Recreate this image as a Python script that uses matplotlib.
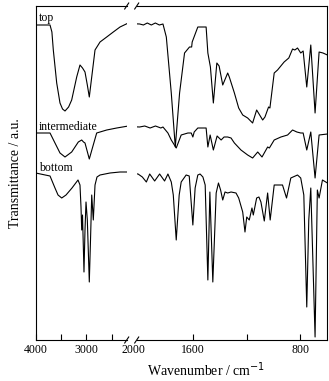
import numpy as np
import matplotlib
matplotlib.use("Agg")
import matplotlib.pyplot as plt
import matplotlib.transforms as mtransforms
from matplotlib.lines import Line2D

plt.rcParams['font.family'] = ['Liberation Serif', 'DejaVu Serif']

# spectra: wavenumber (cm-1) / transmittance (a.u., offset)
top_wn = [4000, 3717, 3680, 3652, 3585, 3520, 3470, 3421, 3350, 3289, 3190, 3125, 3075, 3026,
          2980, 2941, 2893, 2828, 2729, 2597, 2467, 2334, 2170,
          1998, 1970, 1941, 1911, 1881, 1851, 1824, 1799, 1762, 1732, 1700, 1663, 1626, 1610,
          1606, 1564, 1502, 1489, 1470, 1448, 1422, 1405, 1378, 1341, 1329, 1291, 1259, 1229,
          1192, 1155, 1125, 1080, 1063, 1036, 1026, 994, 969, 920, 885, 857, 840, 820, 796,
          778, 751, 721, 689, 659, 630, 597]
top_t = [315, 315, 308, 290, 257, 237, 231, 229, 233, 240, 263, 275, 272, 268,
         255, 243, 263, 290, 298, 303, 308, 313, 317,
         316, 315, 317, 315, 317, 315, 316, 303, 247, 193, 247, 287, 293, 293,
         298, 313, 313, 287, 273, 237, 277, 274, 255, 267, 263, 247, 232, 225,
         222, 217, 230, 220, 223, 233, 232, 267, 270, 278, 282, 291, 290, 292, 287,
         289, 253, 295, 227, 288, 287, 285]

mid_wn = [4000, 3717, 3619, 3520, 3421, 3289, 3158, 3091, 3055, 3026, 2941, 2874, 2795,
          2597, 2399, 2170,
          1998, 1960, 1920, 1880, 1840, 1824, 1787, 1762, 1725, 1688, 1638, 1613, 1601, 1591,
          1564, 1502, 1489, 1472, 1448, 1420, 1390, 1368, 1341, 1316, 1291, 1242, 1192,
          1155, 1117, 1085, 1043, 1030, 994, 944, 894, 857, 825, 796, 778, 751, 721, 689,
          659, 597]
mid_t = [207, 207, 197, 187, 183, 188, 198, 200, 198, 197, 181, 193, 207,
         210, 212, 214,
         213, 214, 212, 214, 212, 213, 207, 200, 192, 205, 207, 207, 203, 208,
         212, 212, 193, 205, 190, 204, 200, 203, 203, 202, 197, 190, 185,
         182, 188, 183, 193, 192, 200, 203, 205, 210, 208, 207, 207, 190, 208, 162,
         205, 206]

bot_wn = [4000, 3717, 3619, 3559, 3486, 3401, 3283, 3164, 3125, 3105, 3091, 3075, 3046,
          3026, 3006, 2980, 2941, 2917, 2893, 2862, 2828, 2789, 2729, 2532, 2334, 2170,
          2010, 1978, 1948, 1923, 1886, 1849, 1812, 1787, 1762, 1747, 1725, 1703, 1688,
          1651, 1628, 1601, 1584, 1564, 1547, 1526, 1509, 1489, 1474, 1452, 1427, 1410,
          1394, 1378, 1361, 1341, 1316, 1279, 1259, 1229, 1212, 1199, 1180, 1160, 1150,
          1125, 1108, 1093, 1068, 1043, 1024, 994, 966, 932, 902, 870, 820, 796, 773,
          751, 736, 721, 689, 672, 659, 634, 597]
bot_t = [167, 164, 152, 145, 142, 145, 152, 160, 155, 133, 110, 125, 68,
         110, 138, 120, 58, 100, 145, 120, 155, 163, 165, 167, 168, 168,
         166, 163, 158, 166, 159, 166, 159, 166, 158, 145, 100, 145, 158,
         165, 164, 115, 152, 165, 166, 163, 155, 60, 148, 58, 147, 157,
         150, 140, 148, 147, 148, 147, 142, 128, 108, 123, 120, 132, 125,
         142, 143, 138, 119, 147, 120, 155, 155, 155, 142, 162, 165, 162, 145,
         33, 120, 152, 3, 150, 142, 160, 157]

labels = ['top', 'intermediate', 'bottom']
label_t = [322, 213, 172]

W, H = 329, 381
fig = plt.figure(figsize=(W / 100, H / 100), dpi=100)

ax_l = fig.add_axes([35.7 / W, 1 - 340 / H, 91.1 / W, 334 / H])
ax_r = fig.add_axes([136.7 / W, 1 - 340 / H, 190.3 / W, 334 / H])

for ax in (ax_l, ax_r):
    ax.plot(top_wn, top_t, color='black', lw=0.8)
    ax.plot(mid_wn, mid_t, color='black', lw=0.8)
    ax.plot(bot_wn, bot_t, color='black', lw=0.8)
    ax.set_ylim(0, 334)
    ax.set_yticks([])
    ax.tick_params(axis='x', direction='in', length=4, width=0.8, labelsize=8.5, pad=3)
    for s in ax.spines.values():
        s.set_linewidth(0.8)

ax_l.set_xlim(4000, 2200)
ax_l.set_xticks([4000, 3500, 3000, 2500])
ax_l.set_xticklabels(['4000', '', '3000', ''])
ax_l.spines['right'].set_visible(False)

ax_r.set_xlim(2020, 600)
ax_r.set_xticks([2000, 1600, 1200, 800])
ax_r.set_xticklabels(['2000', '1600', '', '800'])
ax_r.spines['left'].set_visible(False)
ax_r.get_xticklines()[0].set_visible(False)
ax_r.get_xticklines()[1].set_visible(False)
# the "2000" label sits in the axis break
lab = ax_r.get_xticklabels()[0]
lab.set_transform(lab.get_transform() +
                  mtransforms.ScaledTranslation(-6 / 100, 0, fig.dpi_scale_trans))

for name, t in zip(labels, label_t):
    ax_l.text(3930, t, name, fontsize=8.5, ha='left', va='center')

ax_l.set_ylabel('Transmittance / a.u.', fontsize=10, labelpad=10)
fig.text(206 / W, 1 - 370 / H, 'Wavenumber / cm$^{-1}$', fontsize=10,
         ha='center', va='center')

# axis break marks
for yp in (6, 340):
    for xp in (126.7, 136.7):
        fig.add_artist(Line2D([(xp - 2) / W, (xp + 2) / W],
                              [1 - (yp + 3) / H, 1 - (yp - 3) / H],
                              color='black', lw=0.8))

fig.savefig('out.png', dpi=100)
